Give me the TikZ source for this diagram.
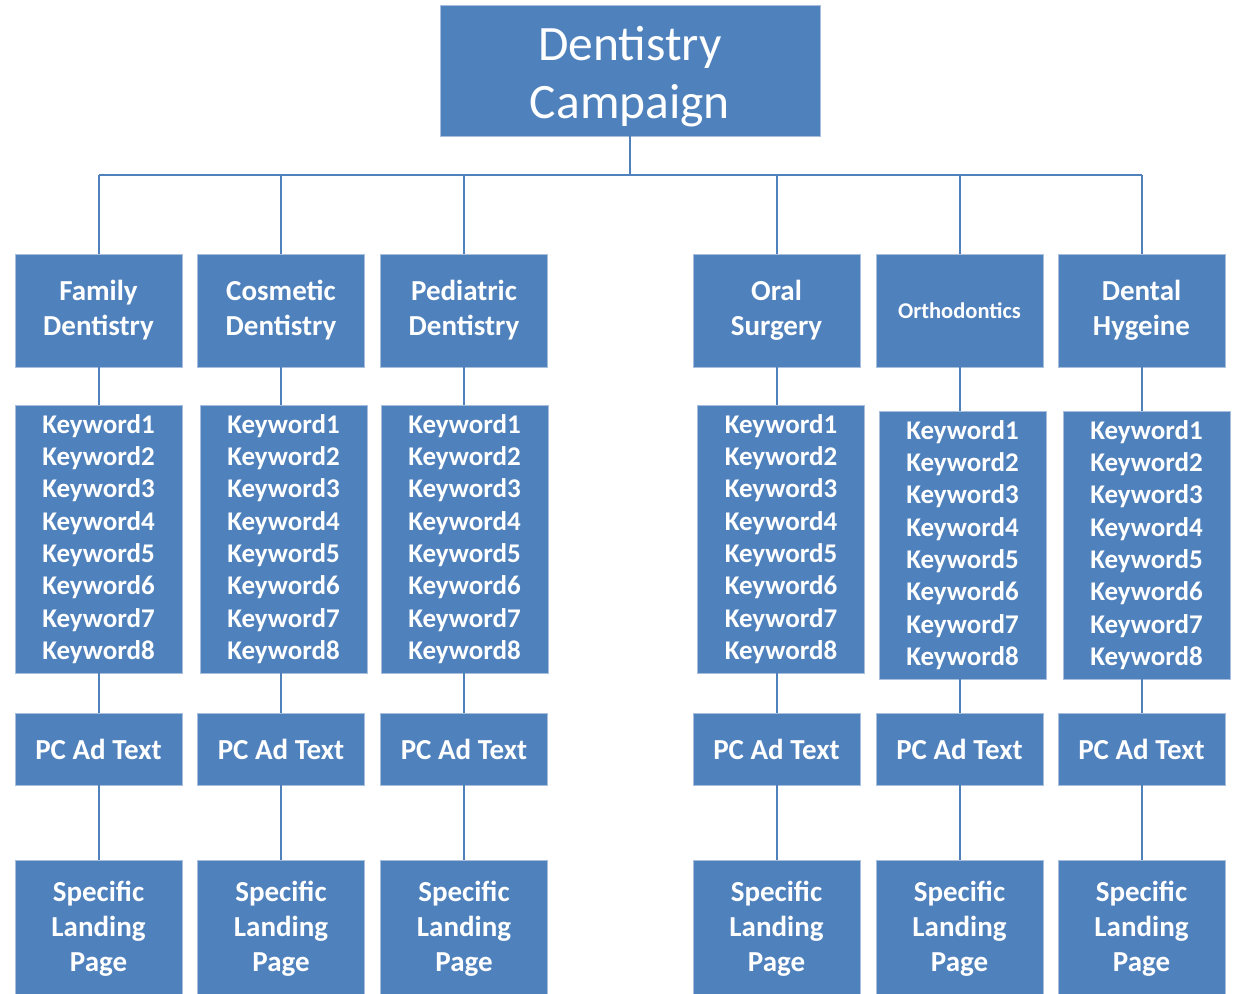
\documentclass[tikz,border=0pt]{standalone}
\usepackage{fontspec}
\setmainfont{Carlito}
\definecolor{boxblue}{HTML}{4F81BD}
\definecolor{edgeblue}{HTML}{A7BEDD}
\begin{document}
\begin{tikzpicture}[x=1pt,y=-1pt,
  box/.style={rectangle, fill=boxblue, draw=edgeblue, line width=0.9pt, inner sep=0pt,
    text=white, align=center, anchor=center},
  topbox/.style={box, minimum width=380, minimum height=131, font=\fontsize{49.5}{58}\selectfont},
  catbox/.style={box, minimum width=167, minimum height=113, font=\fontsize{29}{35}\selectfont\bfseries},
  kwbox/.style={box, minimum width=167, minimum height=268, font=\fontsize{27}{32.3}\selectfont\bfseries},
  adbox/.style={box, minimum width=167, minimum height=72, font=\fontsize{29}{35}\selectfont\bfseries},
  landbox/.style={box, minimum width=167, minimum height=138, font=\fontsize{29}{35}\selectfont\bfseries},
  conn/.style={draw=boxblue, line width=2pt}]
\useasboundingbox (0,0) rectangle (1233,993);
\clip (0,0) rectangle (1233,993);
\fill[white] (0,0) rectangle (1233,993);

% top
\node[topbox] (top) at (630,70.5) {\rule{0pt}{46pt}Dentistry\\Campaign};

% categories
\node[catbox] (c1) at (98.5,310.5) {Family\\Dentistry};
\node[catbox] (c2) at (281,310.5) {Cosmetic\\Dentistry};
\node[catbox] (c3) at (464,310.5) {Pediatric\\Dentistry};
\node[catbox] (c4) at (776.5,310.5) {Oral\\Surgery};
\node[catbox, font=\fontsize{22.5}{26}\selectfont\bfseries] (c5) at (959.5,310.5) {Orthodontics};
\node[catbox] (c6) at (1141.5,310.5) {Dental\\Hygeine};

% keywords
\newcommand{\kwlist}{Keyword1\\Keyword2\\Keyword3\\Keyword4\\Keyword5\\Keyword6\\Keyword7\\Keyword8}
\node[kwbox] (k1) at (98.5,539) {\kwlist};
\node[kwbox] (k2) at (283.5,539) {\kwlist};
\node[kwbox] (k3) at (464.5,539) {\kwlist};
\node[kwbox] (k4) at (781,539) {\kwlist};
\node[kwbox] (k5) at (962.5,545) {\kwlist};
\node[kwbox] (k6) at (1146.5,545) {\kwlist};

% ad text
\node[adbox] (a1) at (98.5,749) {PC Ad Text};
\node[adbox] (a2) at (281,749) {PC Ad Text};
\node[adbox] (a3) at (464,749) {PC Ad Text};
\node[adbox] (a4) at (776.5,749) {PC Ad Text};
\node[adbox] (a5) at (959.5,749) {PC Ad Text};
\node[adbox] (a6) at (1141.5,749) {PC Ad Text};

% landing pages
\node[landbox] (s1) at (98.5,929) {Specific\\Landing\\Page};
\node[landbox] (s2) at (281,929) {Specific\\Landing\\Page};
\node[landbox] (s3) at (464,929) {Specific\\Landing\\Page};
\node[landbox] (s4) at (776.5,929) {Specific\\Landing\\Page};
\node[landbox] (s5) at (959.5,929) {Specific\\Landing\\Page};
\node[landbox] (s6) at (1141.5,929) {Specific\\Landing\\Page};

% bus
\coordinate (busL) at (98.5,175);
\coordinate (busR) at (1141.5,175);
\draw[conn] (busL) -- (busR);
\draw[conn] (top.south) -- (top.south |- busL);
\foreach \i in {1,...,6}{
  \draw[conn] (c\i.north) -- (c\i.north |- busL);
  \draw[conn] (c\i.south) -- (c\i.south |- k\i.north);
  \draw[conn] (a\i.north) -- (a\i.north |- k\i.south);
  \draw[conn] (a\i.south) -- (s\i.north);
}
\end{tikzpicture}
\end{document}
